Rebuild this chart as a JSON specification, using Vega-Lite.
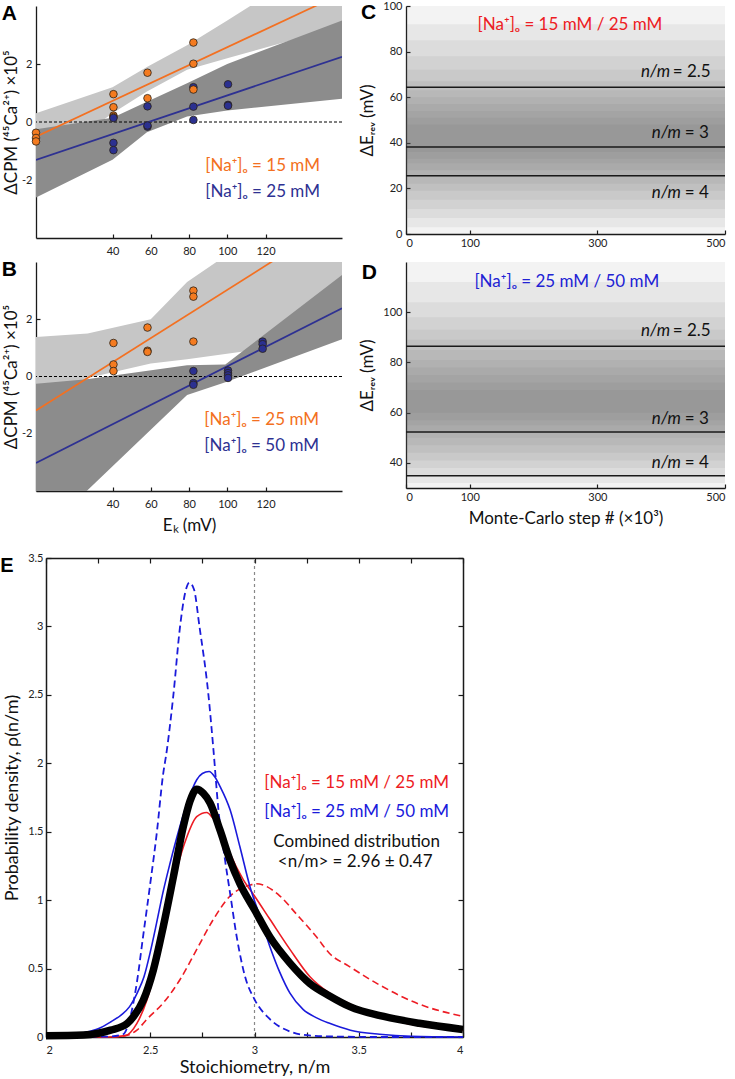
{
  "$schema": "https://vega.github.io/schema/vega-lite/v6.json",
  "padding": {"left": 0, "top": 0, "right": 2, "bottom": 2},
  "background": "white",
  "config": {
    "font": "Lato",
    "view": {"stroke": null},
    "axis": {"grid": false, "domainColor": "#1a1a1a", "domainWidth": 1.3, "tickColor": "#1a1a1a", "tickWidth": 1.2, "labelColor": "#222", "labelFontSize": 11, "labelFont": "Lato", "titleFont": "Lato", "titleFontSize": 17, "titleFontWeight": "normal", "titleColor": "#111"},
    "text": {"font": "Lato"}
  },
  "datasets": {
    "bandsA": [
      {"band": "light", "x": 0, "lo": -1.6, "hi": 0.3},
      {"band": "light", "x": 40, "lo": 0.3, "hi": 1.2},
      {"band": "light", "x": 58, "lo": 1.05, "hi": 1.9},
      {"band": "light", "x": 79, "lo": 1.8, "hi": 2.65},
      {"band": "light", "x": 100, "lo": 2.2, "hi": 3.5},
      {"band": "light", "x": 160, "lo": 3.3, "hi": 6.0},
      {"band": "dark", "x": 0, "lo": -2.6, "hi": -0.25},
      {"band": "dark", "x": 40, "lo": -1.3, "hi": 0.15},
      {"band": "dark", "x": 58, "lo": -0.35, "hi": 0.7},
      {"band": "dark", "x": 79, "lo": 0.19, "hi": 1.34},
      {"band": "dark", "x": 100, "lo": 0.4, "hi": 2.0},
      {"band": "dark", "x": 160, "lo": 0.8, "hi": 3.5}
    ],
    "bandsB": [
      {"band": "light", "x": 0, "lo": -2.3, "hi": 1.38},
      {"band": "light", "x": 27, "lo": -0.05, "hi": 1.5},
      {"band": "light", "x": 60, "lo": 0.45, "hi": 2.0},
      {"band": "light", "x": 79, "lo": 0.6, "hi": 3.3},
      {"band": "light", "x": 160, "lo": 1.35, "hi": 7.0},
      {"band": "dark", "x": 0, "lo": -5.7, "hi": -0.25},
      {"band": "dark", "x": 26.5, "lo": -4.0, "hi": -0.1},
      {"band": "dark", "x": 79, "lo": -0.65, "hi": 0.39},
      {"band": "dark", "x": 99, "lo": -0.2, "hi": 0.42},
      {"band": "dark", "x": 160, "lo": 1.3, "hi": 3.55}
    ],
    "fitsA": [
      {"grp": "o", "x": 0, "y": -0.51}, {"grp": "o", "x": 160, "y": 4.43},
      {"grp": "n", "x": 0, "y": -1.31}, {"grp": "n", "x": 160, "y": 2.25}
    ],
    "fitsB": [
      {"grp": "o", "x": 0, "y": -1.19}, {"grp": "o", "x": 160, "y": 5.56},
      {"grp": "n", "x": 0, "y": -3.02}, {"grp": "n", "x": 160, "y": 2.38}
    ],
    "ptsA": [
      {"grp": "o", "x": 0, "y": -0.37}, {"grp": "o", "x": 0, "y": -0.55}, {"grp": "o", "x": 0, "y": -0.67},
      {"grp": "o", "x": 40.5, "y": 0.96}, {"grp": "o", "x": 40.5, "y": 0.51}, {"grp": "o", "x": 40.5, "y": 0.22}, {"grp": "o", "x": 40.5, "y": 0.17},
      {"grp": "o", "x": 58.3, "y": 1.7}, {"grp": "o", "x": 58.3, "y": 0.82},
      {"grp": "o", "x": 82.3, "y": 2.74}, {"grp": "o", "x": 82.3, "y": 2.01},
      {"grp": "n", "x": 40.5, "y": 0.14}, {"grp": "n", "x": 40.5, "y": -0.72}, {"grp": "n", "x": 40.5, "y": -0.97},
      {"grp": "n", "x": 58.3, "y": 0.54}, {"grp": "n", "x": 58.3, "y": -0.16}, {"grp": "n", "x": 58.3, "y": -0.12},
      {"grp": "n", "x": 82.3, "y": 1.2}, {"grp": "n", "x": 82.3, "y": 0.53}, {"grp": "n", "x": 82.3, "y": 0.07},
      {"grp": "o", "x": 82.3, "y": 1.12},
      {"grp": "n", "x": 100.4, "y": 1.3}, {"grp": "n", "x": 100.4, "y": 0.59}, {"grp": "n", "x": 100.4, "y": 0.56}
    ],
    "ptsB": [
      {"grp": "o", "x": 40.5, "y": 1.17}, {"grp": "o", "x": 40.5, "y": 0.42}, {"grp": "o", "x": 40.5, "y": 0.19},
      {"grp": "o", "x": 58.3, "y": 1.71}, {"grp": "o", "x": 58.3, "y": 0.9}, {"grp": "o", "x": 58.3, "y": 0.86},
      {"grp": "o", "x": 82.3, "y": 3.0}, {"grp": "o", "x": 82.3, "y": 2.79}, {"grp": "o", "x": 82.3, "y": 1.22},
      {"grp": "n", "x": 82.3, "y": 0.19}, {"grp": "n", "x": 82.3, "y": -0.23}, {"grp": "n", "x": 82.3, "y": -0.29},
      {"grp": "n", "x": 100.4, "y": 0.21}, {"grp": "n", "x": 100.4, "y": 0.12}, {"grp": "n", "x": 100.4, "y": 0.04}, {"grp": "n", "x": 100.4, "y": -0.05},
      {"grp": "n", "x": 118.5, "y": 1.22}, {"grp": "n", "x": 118.5, "y": 1.13}, {"grp": "n", "x": 118.5, "y": 0.97}
    ],
    "noiseC": [
      {"s0": 0, "s1": 500, "lo": 0, "hi": 100},
      {"s0": 0, "s1": 500, "lo": 3, "hi": 92},
      {"s0": 0, "s1": 500, "lo": 7, "hi": 85},
      {"s0": 0, "s1": 500, "lo": 11, "hi": 78},
      {"s0": 0, "s1": 500, "lo": 15, "hi": 72},
      {"s0": 0, "s1": 500, "lo": 19, "hi": 67},
      {"s0": 0, "s1": 500, "lo": 22, "hi": 63},
      {"s0": 0, "s1": 500, "lo": 25, "hi": 60},
      {"s0": 0, "s1": 500, "lo": 28, "hi": 57},
      {"s0": 0, "s1": 500, "lo": 31, "hi": 54},
      {"s0": 0, "s1": 500, "lo": 33, "hi": 51},
      {"s0": 0, "s1": 500, "lo": 36, "hi": 48}
    ],
    "noiseD": [
      {"s0": 0, "s1": 500, "lo": 30, "hi": 120},
      {"s0": 0, "s1": 500, "lo": 32, "hi": 112},
      {"s0": 0, "s1": 500, "lo": 35, "hi": 104},
      {"s0": 0, "s1": 500, "lo": 38, "hi": 98},
      {"s0": 0, "s1": 500, "lo": 41, "hi": 93},
      {"s0": 0, "s1": 500, "lo": 44, "hi": 89},
      {"s0": 0, "s1": 500, "lo": 47, "hi": 85},
      {"s0": 0, "s1": 500, "lo": 50, "hi": 81},
      {"s0": 0, "s1": 500, "lo": 52, "hi": 78},
      {"s0": 0, "s1": 500, "lo": 55, "hi": 75},
      {"s0": 0, "s1": 500, "lo": 57, "hi": 72},
      {"s0": 0, "s1": 500, "lo": 60, "hi": 69}
    ],
    "nmC": [
      {"nm": "2.5", "dE": 64.4, "ly": 71, "xa": 414, "xb": 418},
      {"nm": "3", "dE": 38.2, "ly": 44.4, "xa": 431, "xb": 437},
      {"nm": "4", "dE": 25.5, "ly": 17.8, "xa": 431, "xb": 437}
    ],
    "nmD": [
      {"nm": "2.5", "dE": 86.4, "ly": 92.4, "xa": 414, "xb": 418},
      {"nm": "3", "dE": 52.3, "ly": 57.5, "xa": 431, "xb": 437},
      {"nm": "4", "dE": 34.9, "ly": 40, "xa": 431, "xb": 437}
    ],
    "curves": [
      {"c": "bd", "x": 2.0, "y": 0}, {"c": "bd", "x": 2.3, "y": 0.003}, {"c": "bd", "x": 2.37, "y": 0.02}, {"c": "bd", "x": 2.4, "y": 0.12}, {"c": "bd", "x": 2.436, "y": 0.4}, {"c": "bd", "x": 2.467, "y": 0.75}, {"c": "bd", "x": 2.5, "y": 1.12}, {"c": "bd", "x": 2.532, "y": 1.5}, {"c": "bd", "x": 2.56, "y": 1.9}, {"c": "bd", "x": 2.58, "y": 2.1}, {"c": "bd", "x": 2.611, "y": 2.5}, {"c": "bd", "x": 2.643, "y": 3.0}, {"c": "bd", "x": 2.668, "y": 3.25}, {"c": "bd", "x": 2.688, "y": 3.32}, {"c": "bd", "x": 2.71, "y": 3.27}, {"c": "bd", "x": 2.736, "y": 3.0}, {"c": "bd", "x": 2.779, "y": 2.5}, {"c": "bd", "x": 2.803, "y": 2.1}, {"c": "bd", "x": 2.827, "y": 1.66}, {"c": "bd", "x": 2.859, "y": 1.29}, {"c": "bd", "x": 2.883, "y": 1.05}, {"c": "bd", "x": 2.915, "y": 0.73}, {"c": "bd", "x": 2.955, "y": 0.44}, {"c": "bd", "x": 3.002, "y": 0.27}, {"c": "bd", "x": 3.074, "y": 0.13}, {"c": "bd", "x": 3.17, "y": 0.04}, {"c": "bd", "x": 3.27, "y": 0.01}, {"c": "bd", "x": 3.4, "y": 0.003}, {"c": "bd", "x": 3.6, "y": 0}, {"c": "bd", "x": 4.0, "y": 0},
      {"c": "bs", "x": 2.0, "y": 0}, {"c": "bs", "x": 2.1, "y": 0.005}, {"c": "bs", "x": 2.18, "y": 0.03}, {"c": "bs", "x": 2.25, "y": 0.06}, {"c": "bs", "x": 2.31, "y": 0.11}, {"c": "bs", "x": 2.36, "y": 0.16}, {"c": "bs", "x": 2.4, "y": 0.22}, {"c": "bs", "x": 2.44, "y": 0.33}, {"c": "bs", "x": 2.47, "y": 0.44}, {"c": "bs", "x": 2.5, "y": 0.62}, {"c": "bs", "x": 2.53, "y": 0.83}, {"c": "bs", "x": 2.56, "y": 1.05}, {"c": "bs", "x": 2.595, "y": 1.27}, {"c": "bs", "x": 2.635, "y": 1.5}, {"c": "bs", "x": 2.675, "y": 1.7}, {"c": "bs", "x": 2.723, "y": 1.88}, {"c": "bs", "x": 2.75, "y": 1.925}, {"c": "bs", "x": 2.782, "y": 1.94}, {"c": "bs", "x": 2.81, "y": 1.9}, {"c": "bs", "x": 2.835, "y": 1.83}, {"c": "bs", "x": 2.883, "y": 1.66}, {"c": "bs", "x": 2.93, "y": 1.39}, {"c": "bs", "x": 2.978, "y": 1.1}, {"c": "bs", "x": 3.026, "y": 0.88}, {"c": "bs", "x": 3.074, "y": 0.66}, {"c": "bs", "x": 3.122, "y": 0.47}, {"c": "bs", "x": 3.17, "y": 0.32}, {"c": "bs", "x": 3.234, "y": 0.2}, {"c": "bs", "x": 3.298, "y": 0.14}, {"c": "bs", "x": 3.36, "y": 0.1}, {"c": "bs", "x": 3.46, "y": 0.05}, {"c": "bs", "x": 3.6, "y": 0.02}, {"c": "bs", "x": 3.75, "y": 0.005}, {"c": "bs", "x": 4.0, "y": 0},
      {"c": "rs", "x": 2.0, "y": 0}, {"c": "rs", "x": 2.3, "y": 0}, {"c": "rs", "x": 2.38, "y": 0.01}, {"c": "rs", "x": 2.436, "y": 0.1}, {"c": "rs", "x": 2.484, "y": 0.27}, {"c": "rs", "x": 2.532, "y": 0.54}, {"c": "rs", "x": 2.58, "y": 0.88}, {"c": "rs", "x": 2.627, "y": 1.22}, {"c": "rs", "x": 2.675, "y": 1.46}, {"c": "rs", "x": 2.723, "y": 1.61}, {"c": "rs", "x": 2.771, "y": 1.64}, {"c": "rs", "x": 2.8, "y": 1.6}, {"c": "rs", "x": 2.835, "y": 1.54}, {"c": "rs", "x": 2.883, "y": 1.34}, {"c": "rs", "x": 2.946, "y": 1.15}, {"c": "rs", "x": 3.0, "y": 1.03}, {"c": "rs", "x": 3.074, "y": 0.86}, {"c": "rs", "x": 3.17, "y": 0.64}, {"c": "rs", "x": 3.266, "y": 0.44}, {"c": "rs", "x": 3.36, "y": 0.32}, {"c": "rs", "x": 3.46, "y": 0.24}, {"c": "rs", "x": 3.54, "y": 0.19}, {"c": "rs", "x": 3.7, "y": 0.11}, {"c": "rs", "x": 3.85, "y": 0.07}, {"c": "rs", "x": 4.0, "y": 0.05},
      {"c": "rd", "x": 2.0, "y": 0}, {"c": "rd", "x": 2.3, "y": 0}, {"c": "rd", "x": 2.38, "y": 0.01}, {"c": "rd", "x": 2.436, "y": 0.05}, {"c": "rd", "x": 2.484, "y": 0.13}, {"c": "rd", "x": 2.563, "y": 0.25}, {"c": "rd", "x": 2.643, "y": 0.42}, {"c": "rd", "x": 2.723, "y": 0.64}, {"c": "rd", "x": 2.803, "y": 0.86}, {"c": "rd", "x": 2.883, "y": 1.03}, {"c": "rd", "x": 2.94, "y": 1.09}, {"c": "rd", "x": 2.978, "y": 1.11}, {"c": "rd", "x": 3.01, "y": 1.12}, {"c": "rd", "x": 3.042, "y": 1.11}, {"c": "rd", "x": 3.122, "y": 1.03}, {"c": "rd", "x": 3.2, "y": 0.9}, {"c": "rd", "x": 3.298, "y": 0.73}, {"c": "rd", "x": 3.36, "y": 0.61}, {"c": "rd", "x": 3.45, "y": 0.52}, {"c": "rd", "x": 3.6, "y": 0.38}, {"c": "rd", "x": 3.79, "y": 0.24}, {"c": "rd", "x": 4.0, "y": 0.15},
      {"c": "k", "x": 2.0, "y": 0.01}, {"c": "k", "x": 2.18, "y": 0.015}, {"c": "k", "x": 2.31, "y": 0.05}, {"c": "k", "x": 2.39, "y": 0.1}, {"c": "k", "x": 2.42, "y": 0.15}, {"c": "k", "x": 2.467, "y": 0.27}, {"c": "k", "x": 2.515, "y": 0.49}, {"c": "k", "x": 2.563, "y": 0.81}, {"c": "k", "x": 2.611, "y": 1.17}, {"c": "k", "x": 2.659, "y": 1.54}, {"c": "k", "x": 2.69, "y": 1.72}, {"c": "k", "x": 2.723, "y": 1.81}, {"c": "k", "x": 2.755, "y": 1.78}, {"c": "k", "x": 2.787, "y": 1.71}, {"c": "k", "x": 2.835, "y": 1.51}, {"c": "k", "x": 2.883, "y": 1.29}, {"c": "k", "x": 2.93, "y": 1.12}, {"c": "k", "x": 3.0, "y": 0.93}, {"c": "k", "x": 3.074, "y": 0.73}, {"c": "k", "x": 3.17, "y": 0.54}, {"c": "k", "x": 3.266, "y": 0.39}, {"c": "k", "x": 3.36, "y": 0.3}, {"c": "k", "x": 3.46, "y": 0.22}, {"c": "k", "x": 3.62, "y": 0.15}, {"c": "k", "x": 3.79, "y": 0.1}, {"c": "k", "x": 4.0, "y": 0.055}
    ],
    "textE": [
      {"col": "r", "x": 3.49, "y": 1.854, "txt": "[Na⁺]ₒ = 15 mM / 25 mM"},
      {"col": "b", "x": 3.49, "y": 1.647, "txt": "[Na⁺]ₒ = 25 mM / 50 mM"},
      {"col": "k", "x": 3.49, "y": 1.423, "txt": "Combined distribution"},
      {"col": "k", "x": 3.483, "y": 1.282, "txt": "<n/m> = 2.96 ± 0.47"}
    ]
  },
  "columns": 2,
  "align": "each",
  "bounds": "flush",
  "spacing": {"row": 24, "column": 64},
  "concat": [
    {
      "width": 306, "height": 232,
      "layer": [
        {"data": {"name": "bandsA"}, "transform": [{"filter": "datum.band == 'light'"}],
         "mark": {"type": "area", "clip": true, "color": "#c6c6c6"},
         "encoding": {
           "x": {"field": "x", "type": "quantitative", "scale": {"domain": [0, 160], "nice": false},
                 "axis": {"values": [40, 60, 80, 100, 120], "title": null, "tickSize": -4, "labelPadding": 11}},
           "y": {"field": "lo", "type": "quantitative", "scale": {"domain": [-4, 4], "nice": false},
                 "axis": {"values": [-2, 0, 2], "title": "ΔCPM (⁴⁵Ca²⁺) ×10⁵", "tickSize": -4, "labelPadding": 8, "titlePadding": 1, "labelExpr": "replace(datum.label, '−', '-')"}},
           "y2": {"field": "hi"}}},
        {"data": {"name": "bandsA"}, "transform": [{"filter": "datum.band == 'dark'"}],
         "mark": {"type": "area", "clip": true, "color": "#8c8c8c"},
         "encoding": {"x": {"field": "x", "type": "quantitative"}, "y": {"field": "lo", "type": "quantitative"}, "y2": {"field": "hi"}}},
        {"data": {"values": [{"y": 0}]}, "mark": {"type": "rule", "strokeDash": [3, 2], "color": "#000", "strokeWidth": 1},
         "encoding": {"y": {"field": "y", "type": "quantitative"}}},
        {"data": {"name": "fitsA"}, "mark": {"type": "line", "clip": true, "strokeWidth": 1.7},
         "encoding": {"x": {"field": "x", "type": "quantitative"}, "y": {"field": "y", "type": "quantitative"},
           "color": {"field": "grp", "type": "nominal", "scale": {"domain": ["o", "n"], "range": ["#f37021", "#2e3192"]}, "legend": null}}},
        {"data": {"name": "ptsA"}, "mark": {"type": "circle", "size": 58, "stroke": "#2a2218", "strokeWidth": 0.8, "opacity": 1},
         "encoding": {"x": {"field": "x", "type": "quantitative"}, "y": {"field": "y", "type": "quantitative"},
           "fill": {"field": "grp", "type": "nominal", "scale": {"domain": ["o", "n"], "range": ["#f47b20", "#2b3090"]}, "legend": null}}},
        {"data": {"values": [{"x": 88.5, "y": -1.5, "txt": "[Na⁺]ₒ = 15 mM", "grp": "o"}, {"x": 88.5, "y": -2.42, "txt": "[Na⁺]ₒ = 25 mM", "grp": "n"}]},
         "mark": {"type": "text", "align": "left", "baseline": "middle", "fontSize": 17},
         "encoding": {"x": {"field": "x", "type": "quantitative"}, "y": {"field": "y", "type": "quantitative"}, "text": {"field": "txt"},
           "color": {"field": "grp", "type": "nominal", "legend": null}}},
        {"data": {"values": [{"x": -14, "y": 3.71, "txt": "A"}]},
         "mark": {"type": "text", "align": "center", "baseline": "middle", "fontSize": 21, "fontWeight": "bold", "font": "Liberation Sans", "color": "#000"},
         "encoding": {"x": {"field": "x", "type": "quantitative"}, "y": {"field": "y", "type": "quantitative"}, "text": {"field": "txt"}}}
      ]
    },
    {
      "width": 319, "height": 228,
      "layer": [
        {"data": {"name": "noiseC"}, "mark": {"type": "rect", "color": "#555", "opacity": 0.072},
         "encoding": {
           "x": {"field": "s0", "type": "quantitative", "scale": {"domain": [0, 500], "nice": false},
                 "axis": {"values": [0, 100, 300, 500], "title": null, "tickSize": -4, "labelPadding": 7}},
           "x2": {"field": "s1"},
           "y": {"field": "lo", "type": "quantitative", "scale": {"domain": [0, 100], "nice": false},
                 "axis": {"values": [0, 20, 40, 60, 80, 100], "title": "ΔEᵣₑᵥ (mV)", "tickSize": -4, "labelPadding": 8, "titlePadding": 6}},
           "y2": {"field": "hi"}}},
        {"data": {"name": "nmC"}, "mark": {"type": "rule", "color": "#1a1a1a", "strokeWidth": 1.5},
         "encoding": {"y": {"field": "dE", "type": "quantitative"}}},
        {"data": {"name": "nmC"}, "mark": {"type": "text", "align": "right", "baseline": "middle", "fontSize": 17, "fontStyle": "italic", "color": "#111"},
         "encoding": {"x": {"field": "xa", "type": "quantitative"}, "y": {"field": "ly", "type": "quantitative"}, "text": {"value": "n/m"}}},
        {"data": {"name": "nmC"}, "transform": [{"calculate": "'= ' + datum.nm", "as": "lab"}],
         "mark": {"type": "text", "align": "left", "baseline": "middle", "fontSize": 17, "color": "#111"},
         "encoding": {"x": {"field": "xb", "type": "quantitative"}, "y": {"field": "ly", "type": "quantitative"}, "text": {"field": "lab"}}},
        {"data": {"values": [{"x": 257, "y": 91.5, "txt": "[Na⁺]ₒ = 15 mM / 25 mM"}]},
         "mark": {"type": "text", "align": "center", "baseline": "middle", "fontSize": 17, "color": "#ed1c24"},
         "encoding": {"x": {"field": "x", "type": "quantitative"}, "y": {"field": "y", "type": "quantitative"}, "text": {"field": "txt"}}},
        {"data": {"values": [{"x": -58.5, "y": 96.8, "txt": "C"}]},
         "mark": {"type": "text", "align": "center", "baseline": "middle", "fontSize": 21, "fontWeight": "bold", "font": "Liberation Sans", "color": "#000"},
         "encoding": {"x": {"field": "x", "type": "quantitative"}, "y": {"field": "y", "type": "quantitative"}, "text": {"field": "txt"}}}
      ]
    },
    {
      "width": 306, "height": 229,
      "layer": [
        {"data": {"name": "bandsB"}, "transform": [{"filter": "datum.band == 'light'"}],
         "mark": {"type": "area", "clip": true, "color": "#c6c6c6"},
         "encoding": {
           "x": {"field": "x", "type": "quantitative", "scale": {"domain": [0, 160], "nice": false},
                 "axis": {"values": [40, 60, 80, 100, 120], "title": "Eₖ (mV)", "tickSize": -4, "labelPadding": 11, "titlePadding": 8}},
           "y": {"field": "lo", "type": "quantitative", "scale": {"domain": [-4, 4], "nice": false},
                 "axis": {"values": [-2, 0, 2], "title": "ΔCPM (⁴⁵Ca²⁺) ×10⁵", "tickSize": -4, "labelPadding": 8, "titlePadding": 1, "labelExpr": "replace(datum.label, '−', '-')"}},
           "y2": {"field": "hi"}}},
        {"data": {"name": "bandsB"}, "transform": [{"filter": "datum.band == 'dark'"}],
         "mark": {"type": "area", "clip": true, "color": "#8c8c8c"},
         "encoding": {"x": {"field": "x", "type": "quantitative"}, "y": {"field": "lo", "type": "quantitative"}, "y2": {"field": "hi"}}},
        {"data": {"values": [{"y": 0}]}, "mark": {"type": "rule", "strokeDash": [3, 2], "color": "#000", "strokeWidth": 1},
         "encoding": {"y": {"field": "y", "type": "quantitative"}}},
        {"data": {"name": "fitsB"}, "mark": {"type": "line", "clip": true, "strokeWidth": 1.7},
         "encoding": {"x": {"field": "x", "type": "quantitative"}, "y": {"field": "y", "type": "quantitative"},
           "color": {"field": "grp", "type": "nominal", "scale": {"domain": ["o", "n"], "range": ["#f37021", "#2e3192"]}, "legend": null}}},
        {"data": {"name": "ptsB"}, "mark": {"type": "circle", "size": 58, "stroke": "#2a2218", "strokeWidth": 0.8, "opacity": 1},
         "encoding": {"x": {"field": "x", "type": "quantitative"}, "y": {"field": "y", "type": "quantitative"},
           "fill": {"field": "grp", "type": "nominal", "scale": {"domain": ["o", "n"], "range": ["#f47b20", "#2b3090"]}, "legend": null}}},
        {"data": {"values": [{"x": 88, "y": -1.51, "txt": "[Na⁺]ₒ = 25 mM", "grp": "o"}, {"x": 88, "y": -2.44, "txt": "[Na⁺]ₒ = 50 mM", "grp": "n"}]},
         "mark": {"type": "text", "align": "left", "baseline": "middle", "fontSize": 17},
         "encoding": {"x": {"field": "x", "type": "quantitative"}, "y": {"field": "y", "type": "quantitative"}, "text": {"field": "txt"},
           "color": {"field": "grp", "type": "nominal", "legend": null}}},
        {"data": {"values": [{"x": -14, "y": 3.72, "txt": "B"}]},
         "mark": {"type": "text", "align": "center", "baseline": "middle", "fontSize": 21, "fontWeight": "bold", "font": "Liberation Sans", "color": "#000"},
         "encoding": {"x": {"field": "x", "type": "quantitative"}, "y": {"field": "y", "type": "quantitative"}, "text": {"field": "txt"}}}
      ]
    },
    {
      "width": 319, "height": 226,
      "layer": [
        {"data": {"name": "noiseD"}, "mark": {"type": "rect", "color": "#555", "opacity": 0.072},
         "encoding": {
           "x": {"field": "s0", "type": "quantitative", "scale": {"domain": [0, 500], "nice": false},
                 "axis": {"values": [0, 100, 300, 500], "title": "Monte-Carlo step # (×10³)", "tickSize": -4, "labelPadding": 7, "titlePadding": 8}},
           "x2": {"field": "s1"},
           "y": {"field": "lo", "type": "quantitative", "scale": {"domain": [30, 120], "nice": false},
                 "axis": {"values": [40, 60, 80, 100], "title": "ΔEᵣₑᵥ (mV)", "tickSize": -4, "labelPadding": 8, "titlePadding": 6}},
           "y2": {"field": "hi"}}},
        {"data": {"name": "nmD"}, "mark": {"type": "rule", "color": "#1a1a1a", "strokeWidth": 1.5},
         "encoding": {"y": {"field": "dE", "type": "quantitative"}}},
        {"data": {"name": "nmD"}, "mark": {"type": "text", "align": "right", "baseline": "middle", "fontSize": 17, "fontStyle": "italic", "color": "#111"},
         "encoding": {"x": {"field": "xa", "type": "quantitative"}, "y": {"field": "ly", "type": "quantitative"}, "text": {"value": "n/m"}}},
        {"data": {"name": "nmD"}, "transform": [{"calculate": "'= ' + datum.nm", "as": "lab"}],
         "mark": {"type": "text", "align": "left", "baseline": "middle", "fontSize": 17, "color": "#111"},
         "encoding": {"x": {"field": "xb", "type": "quantitative"}, "y": {"field": "ly", "type": "quantitative"}, "text": {"field": "lab"}}},
        {"data": {"values": [{"x": 252, "y": 112, "txt": "[Na⁺]ₒ = 25 mM / 50 mM"}]},
         "mark": {"type": "text", "align": "center", "baseline": "middle", "fontSize": 17, "color": "#2222d4"},
         "encoding": {"x": {"field": "x", "type": "quantitative"}, "y": {"field": "y", "type": "quantitative"}, "text": {"field": "txt"}}},
        {"data": {"values": [{"x": -57.4, "y": 115.5, "txt": "D"}]},
         "mark": {"type": "text", "align": "center", "baseline": "middle", "fontSize": 21, "fontWeight": "bold", "font": "Liberation Sans", "color": "#000"},
         "encoding": {"x": {"field": "x", "type": "quantitative"}, "y": {"field": "y", "type": "quantitative"}, "text": {"field": "txt"}}}
      ]
    },
    {
      "width": 306, "height": 522,
      "layer": [
        {"data": {"values": [{"x": 3, "y0": 0, "y1": 3.5}]},
         "mark": {"type": "rule", "color": "#888", "strokeDash": [3, 3], "strokeWidth": 1.2},
         "encoding": {
           "x": {"field": "x", "type": "quantitative", "scale": {"domain": [2, 4], "range": [10, 427], "nice": false},
                 "axis": {"orient": "top", "offset": -43, "values": [2, 2.25, 2.5, 2.75, 3, 3.25, 3.5, 3.75, 4], "labels": false, "title": null, "tickSize": -5, "domainWidth": 1.5}},
           "y": {"field": "y0", "type": "quantitative", "scale": {"domain": [0, 3.5], "range": [522, 43], "nice": false},
                 "axis": {"orient": "right", "offset": 121, "values": [0, 0.5, 1, 1.5, 2, 2.5, 3, 3.5], "labels": false, "title": null, "tickSize": -5, "domainWidth": 1.5}},
           "y2": {"field": "y1"}}},
        {"data": {"name": "curves"}, "transform": [{"filter": "datum.c == 'rd'"}],
         "mark": {"type": "line", "clip": false, "color": "#ed1c24", "strokeWidth": 1.6, "strokeDash": [7, 4], "interpolate": "monotone"},
         "encoding": {
           "x": {"field": "x", "type": "quantitative",
                 "axis": {"orient": "bottom", "values": [2, 2.25, 2.5, 2.75, 3, 3.25, 3.5, 3.75, 4], "format": "~g", "labelExpr": "(datum.value * 2) % 1 == 0 ? datum.label : ''", "title": "Stoichiometry, n/m", "titleFontSize": 18, "tickSize": -5, "labelPadding": 12, "titlePadding": 3, "domainWidth": 1.5}},
           "y": {"field": "y", "type": "quantitative",
                 "axis": {"orient": "left", "offset": -10, "values": [0, 0.5, 1, 1.5, 2, 2.5, 3, 3.5], "format": "~g", "title": "Probability density, ρ(n/m)", "titleFontSize": 18, "tickSize": -5, "labelPadding": 8, "titlePadding": 6, "domainWidth": 1.5}}}},
        {"data": {"name": "curves"}, "transform": [{"filter": "datum.c == 'rs'"}],
         "mark": {"type": "line", "clip": false, "color": "#ed1c24", "strokeWidth": 1.6, "interpolate": "monotone"},
         "encoding": {"x": {"field": "x", "type": "quantitative", "axis": null}, "y": {"field": "y", "type": "quantitative", "axis": null}}},
        {"data": {"name": "curves"}, "transform": [{"filter": "datum.c == 'bs'"}],
         "mark": {"type": "line", "clip": false, "color": "#1a1adb", "strokeWidth": 1.6, "interpolate": "monotone"},
         "encoding": {"x": {"field": "x", "type": "quantitative", "axis": null}, "y": {"field": "y", "type": "quantitative", "axis": null}}},
        {"data": {"name": "curves"}, "transform": [{"filter": "datum.c == 'bd'"}],
         "mark": {"type": "line", "clip": false, "color": "#1a1adb", "strokeWidth": 1.8, "strokeDash": [7, 4], "interpolate": "monotone"},
         "encoding": {"x": {"field": "x", "type": "quantitative", "axis": null}, "y": {"field": "y", "type": "quantitative", "axis": null}}},
        {"data": {"name": "curves"}, "transform": [{"filter": "datum.c == 'k'"}],
         "mark": {"type": "line", "clip": false, "color": "#000", "strokeWidth": 7.5, "interpolate": "monotone"},
         "encoding": {"x": {"field": "x", "type": "quantitative", "axis": null}, "y": {"field": "y", "type": "quantitative", "axis": null}}},
        {"data": {"name": "textE"}, "transform": [{"filter": "datum.col == 'r'"}],
         "mark": {"type": "text", "align": "center", "baseline": "middle", "fontSize": 17, "color": "#ed1c24"},
         "encoding": {"x": {"field": "x", "type": "quantitative", "axis": null}, "y": {"field": "y", "type": "quantitative", "axis": null}, "text": {"field": "txt"}}},
        {"data": {"name": "textE"}, "transform": [{"filter": "datum.col == 'b'"}],
         "mark": {"type": "text", "align": "center", "baseline": "middle", "fontSize": 17, "color": "#1a1adb"},
         "encoding": {"x": {"field": "x", "type": "quantitative", "axis": null}, "y": {"field": "y", "type": "quantitative", "axis": null}, "text": {"field": "txt"}}},
        {"data": {"name": "textE"}, "transform": [{"filter": "datum.col == 'k'"}],
         "mark": {"type": "text", "align": "center", "baseline": "middle", "fontSize": 17, "color": "#111"},
         "encoding": {"x": {"field": "x", "type": "quantitative", "axis": null}, "y": {"field": "y", "type": "quantitative", "axis": null}, "text": {"field": "txt"}}},
        {"data": {"values": [{"x": 1.813, "y": 3.44, "txt": "E"}]},
         "mark": {"type": "text", "align": "center", "baseline": "middle", "fontSize": 20, "fontWeight": "bold", "font": "Liberation Sans", "color": "#000"},
         "encoding": {"x": {"field": "x", "type": "quantitative", "axis": null}, "y": {"field": "y", "type": "quantitative", "axis": null}, "text": {"field": "txt"}}}
      ],
      "resolve": {"axis": {"x": "independent", "y": "independent"}}
    },
    {"width": 1, "height": 1, "data": {"values": [{"a": 0}]}, "mark": {"type": "point", "opacity": 0}, "encoding": {}}
  ]
}
